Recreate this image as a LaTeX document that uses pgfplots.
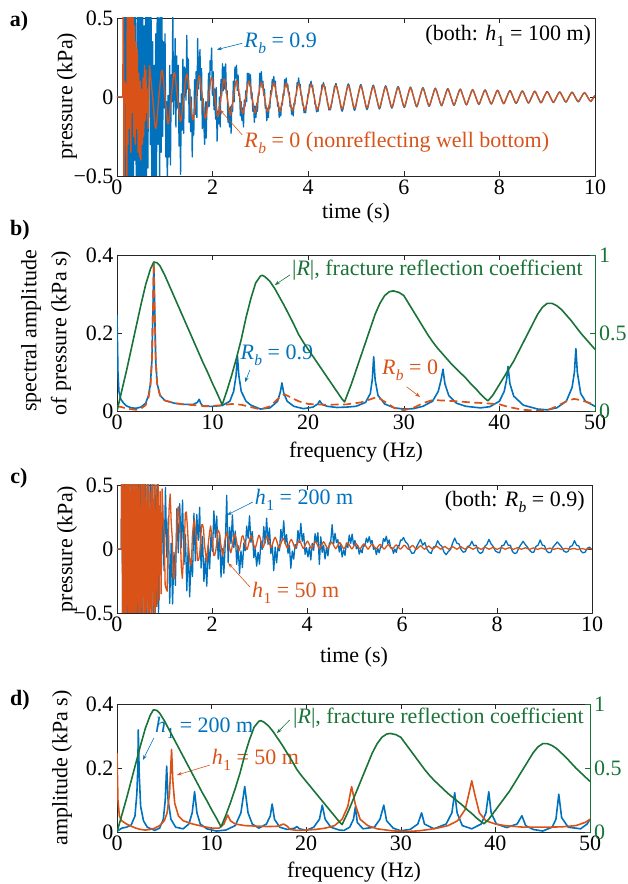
\documentclass[border=0pt]{standalone}
\usepackage{fontspec}
\setmainfont{Liberation Serif}
\usepackage{pgfplots}
\usepackage{pgfplotstable}
\pgfplotsset{compat=1.18}
\usetikzlibrary{arrows.meta}
\definecolor{mblue}{RGB}{0,114,189}
\definecolor{morange}{RGB}{217,83,25}
\definecolor{mgreen}{RGB}{25,115,55}
\definecolor{maxis}{RGB}{38,38,38}
\newcommand{\fs}{\fontsize{22}{26}\selectfont}
\newcommand{\Rb}{\textit{R}\kern0.5pt\raisebox{-0.6ex}{\fontsize{15.5}{15.5}\selectfont\textit{b}}}
\newcommand{\hone}{\textit{h}\kern0.5pt\raisebox{-0.6ex}{\fontsize{15.5}{15.5}\selectfont 1}}
\tikzset{arr/.style={line width=0.6pt, -{Stealth[length=5pt,width=3.5pt]}}}
\pgfplotsset{
  mbase/.style={scale only axis, anchor=south west,
    axis line style={draw=maxis, line width=0.6pt},
    tick style={draw=maxis, line width=0.6pt},
    tick align=inside, major tick length=5pt,
    tick label style={font=\fs, text=black},
    /pgf/number format/assume math mode=true,
    clip mode=individual},
  mright/.style={scale only axis, anchor=south west,
    axis x line=none, axis y line*=right,
    y axis line style={draw=mgreen, line width=0.6pt},
    ytick style={draw=mgreen, line width=0.6pt},
    tick align=inside, major tick length=5pt,
    yticklabel style={font=\fs, text=mgreen, inner xsep=0pt, xshift=4pt},
    /pgf/number format/assume math mode=true,
    clip mode=individual, xmin=0, xmax=50, ymin=0, ymax=1, ytick={0,0.5,1}},
}

% ---------------- panel a data ----------------
\pgfplotstableread[row sep=\\]{x y\\
0 0\\ 0.14 0\\
0.16 0.9\\ 0.1763 -0.7\\ 0.1925 0.8\\ 0.2088 -0.9\\ 0.225 0.6\\ 0.2413 -0.8\\ 0.2575 0.95\\ 0.2738 -0.6\\ 0.29 0.7\\ 0.3063 -0.85\\ 0.3225 0.5\\ 0.3388 -0.9\\ 0.355 0.8\\ 0.3713 -0.4\\ 0.3875 0.9\\ 0.4038 -0.75\\
0.42 -0.6\\ 0.4363 0.85\\ 0.4525 -0.9\\ 0.4688 0.55\\ 0.485 -0.7\\ 0.5013 0.9\\ 0.5175 -0.5\\ 0.5338 0.7\\ 0.55 -0.95\\ 0.5663 0.45\\ 0.5825 -0.6\\ 0.5988 0.8\\ 0.615 -0.75\\ 0.6313 0.6\\ 0.6475 -0.45\\ 0.6638 0.75\\
0.68 0.7\\ 0.6963 -0.3\\ 0.7125 0.55\\ 0.7288 -0.65\\ 0.745 0.35\\ 0.7613 -0.6\\ 0.7775 0.2\\ 0.7938 -0.7\\ 0.81 0.4\\ 0.8263 -0.5\\ 0.8425 0.65\\ 0.8588 -0.3\\ 0.875 0.5\\ 0.8913 -0.55\\ 0.9075 0.6\\ 0.9238 -0.35\\
0.94 0.53\\ 0.9563 -0.25\\ 0.9725 0.35\\ 0.9888 -0.07\\ 1.005 0.4\\ 1.0213 -0.38\\ 1.0375 -0.03\\ 1.0538 -0.61\\ 1.07 0.01\\ 1.0863 -0.38\\ 1.1025 0.2\\ 1.1188 -0.43\\ 1.135 0.14\\ 1.1513 -0.03\\ 1.1675 0.53\\ 1.1838 -0.11\\
1.2 0.02\\ 1.2163 0.37\\ 1.2325 -0.19\\ 1.2488 0.26\\ 1.265 -0.07\\ 1.2813 0.2\\ 1.2975 -0.31\\ 1.3138 -0.04\\ 1.33 -0.49\\ 1.3463 0.02\\ 1.3625 -0.21\\ 1.3788 0.24\\ 1.395 -0.23\\ 1.4113 0.19\\ 1.4275 0.14\\ 1.4438 -0.02\\
1.46 0.39\\ 1.4763 0.05\\ 1.4925 0.24\\ 1.5088 -0.16\\ 1.525 0.05\\ 1.5413 -0.22\\ 1.5575 0\\ 1.5738 -0.38\\ 1.59 -0.12\\ 1.6063 -0.24\\ 1.6225 0.11\\ 1.6388 -0.11\\ 1.655 0.16\\ 1.6713 -0.13\\ 1.6875 0.37\\ 1.7038 0.05\\
1.72 0.2\\ 1.7363 0.3\\ 1.7525 -0.02\\ 1.7688 0.18\\ 1.785 -0.2\\ 1.8013 -0.01\\ 1.8175 -0.18\\ 1.8338 -0.3\\ 1.85 -0.03\\ 1.8663 -0.26\\ 1.8825 -0.03\\ 1.8988 -0.07\\ 1.915 0.15\\ 1.9313 -0.06\\ 1.9475 0.23\\ 1.9638 0.17\\
1.98 0.31\\ 1.9963 0.01\\ 2.0125 0.16\\ 2.0288 -0.08\\ 2.045 0.05\\ 2.0613 -0.14\\ 2.0775 0.06\\ 2.0938 -0.28\\ 2.11 -0.09\\ 2.1263 -0.17\\ 2.1425 0\\ 2.1588 -0.19\\ 2.175 0.11\\ 2.1913 0.01\\ 2.2075 0.21\\ 2.2238 0.04\\
2.24 0.19\\ 2.2563 0.05\\ 2.2725 0.21\\ 2.2888 0.02\\ 2.305 0.04\\ 2.3213 -0.16\\ 2.3375 -0.07\\ 2.3538 -0.19\\ 2.37 -0.06\\ 2.3863 -0.23\\ 2.4025 -0.05\\ 2.4188 -0.09\\ 2.435 0.1\\ 2.4513 -0.03\\ 2.4675 0.19\\ 2.4838 0.12\\
2.5 0.2\\ 2.5163 0.04\\ 2.5325 0.14\\ 2.5488 0.01\\ 2.565 0.02\\ 2.5813 -0.12\\ 2.5975 -0.03\\ 2.6138 -0.15\\ 2.63 -0.07\\ 2.6463 -0.19\\ 2.6625 -0.02\\ 2.6788 -0.06\\ 2.695 0.04\\ 2.7113 -0.03\\ 2.7275 0.15\\ 2.7438 0.09\\
2.76 0.15\\ 2.7763 0.07\\ 2.7925 0.14\\ 2.8088 -0.01\\ 2.825 0.03\\ 2.8413 -0.09\\ 2.8575 -0.05\\ 2.8738 -0.16\\ 2.89 -0.06\\ 2.9063 -0.13\\ 2.9225 -0.04\\ 2.9388 -0.09\\ 2.955 0.02\\ 2.9713 0.01\\ 2.9875 0.15\\ 3.0038 0.09\\
3.02 0.16\\ 3.0363 0.06\\ 3.0525 0.1\\ 3.0688 0.01\\ 3.085 0.05\\ 3.1013 -0.07\\ 3.1175 -0.06\\ 3.1338 -0.15\\ 3.15 -0.07\\ 3.1663 -0.13\\ 3.1825 -0.05\\ 3.1988 -0.07\\ 3.215 0.04\\ 3.2313 0.02\\ 3.2475 0.11\\ 3.2638 0.07\\
3.28 0.13\\ 3.2963 0.07\\ 3.3125 0.1\\ 3.3288 0\\ 3.345 0.01\\ 3.3613 -0.06\\ 3.3775 -0.04\\ 3.3938 -0.13\\ 3.41 -0.07\\ 3.4263 -0.12\\ 3.4425 -0.04\\ 3.4588 -0.05\\ 3.475 0.02\\ 3.4913 0.01\\ 3.5075 0.11\\ 3.5238 0.07\\
3.54 0.12\\ 3.5563 0.06\\ 3.5725 0.08\\ 3.5888 0.02\\ 3.605 0.03\\ 3.6213 -0.06\\ 3.6375 -0.05\\ 3.6538 -0.11\\ 3.67 -0.07\\ 3.6863 -0.12\\ 3.7025 -0.04\\ 3.7188 -0.05\\ 3.735 0.01\\ 3.7513 0.01\\ 3.7675 0.09\\ 3.7838 0.08\\
3.8 0.12\\ 3.8163 0.07\\ 3.8325 0.08\\ 3.8488 0.01\\ 3.865 0.01\\ 3.8813 -0.05\\ 3.8975 -0.05\\ 3.9138 -0.1\\ 3.93 -0.07\\ 3.9463 -0.1\\ 3.9625 -0.05\\ 3.9788 -0.04\\ 3.995 0.02\\ 4.0113 0.02\\ 4.0275 0.08\\ 4.0438 0.07\\
4.06 0.1\\ 4.0763 0.064\\ 4.0925 0.073\\ 4.1088 0.022\\ 4.125 0.012\\ 4.1413 -0.046\\ 4.1575 -0.049\\ 4.1738 -0.094\\ 4.19 -0.07\\ 4.2063 -0.091\\ 4.2225 -0.052\\ 4.2388 -0.04\\ 4.255 0.009\\ 4.2713 0.025\\ 4.2875 0.076\\ 4.3038 0.073\\
4.32 0.091\\ 4.3363 0.067\\ 4.3525 0.064\\ 4.3688 0.022\\ 4.385 0.006\\ 4.4013 -0.036\\ 4.4175 -0.052\\ 4.4338 -0.083\\ 4.45 -0.073\\ 4.4663 -0.081\\ 4.4825 -0.052\\ 4.4988 -0.034\\ 4.515 0.006\\ 4.5313 0.026\\ 4.5475 0.064\\ 4.5638 0.071\\ 4.58 0.087\\
}\tAbN
\pgfplotstableread[row sep=\\]{x y\\
4.58 0.087\\ 4.645 0\\ 4.71 -0.09\\ 4.775 -0.002\\ 4.84 0.083\\ 4.905 0.002\\ 4.97 -0.085\\ 5.035 0\\ 5.1 0.079\\ 5.165 0\\ 5.23 -0.08\\ 5.295 -0.002\\ 5.36 0.075\\ 5.425 0.001\\ 5.49 -0.076\\ 5.555 0\\ 5.62 0.071\\ 5.685 0\\ 5.75 -0.071\\ 5.815 -0.001\\ 5.88 0.067\\ 5.945 0\\ 6.01 -0.067\\ 6.075 0\\ 6.14 0.063\\ 6.205 0\\ 6.27 -0.063\\ 6.335 0\\ 6.4 0.059\\ 6.465 0\\ 6.53 -0.059\\ 6.595 0\\ 6.66 0.056\\ 6.725 0\\ 6.79 -0.056\\ 6.855 0\\ 6.92 0.053\\ 6.985 0\\ 7.05 -0.053\\ 7.115 0\\ 7.18 0.05\\ 7.245 0\\ 7.31 -0.05\\ 7.375 0\\ 7.44 0.047\\ 7.505 0\\ 7.57 -0.047\\ 7.635 0\\ 7.7 0.045\\ 7.765 0\\ 7.83 -0.045\\ 7.895 0\\ 7.96 0.043\\ 8.025 0\\ 8.09 -0.043\\ 8.155 0\\ 8.22 0.041\\ 8.285 0\\ 8.35 -0.041\\ 8.415 0\\ 8.48 0.039\\ 8.545 0\\ 8.61 -0.039\\ 8.675 0\\ 8.74 0.037\\ 8.805 0\\ 8.87 -0.037\\ 8.935 0\\ 9 0.035\\ 9.065 0\\ 9.13 -0.035\\ 9.195 0\\ 9.26 0.033\\ 9.325 0\\ 9.39 -0.033\\ 9.455 0\\ 9.52 0.031\\ 9.585 0\\ 9.65 -0.031\\ 9.715 0\\ 9.78 0.029\\ 9.845 0\\ 9.91 -0.029\\ 9.975 0\\ 10 0.01\\
}\tAbT
\pgfplotstableread[row sep=\\]{x y\\
0 0\\ 0.12 0\\ 0.135 0.9\\ 0.145 -0.9\\ 0.16 0.1\\ 0.19 0.05\\ 0.205 -0.9\\ 0.215 0.9\\ 0.23 -0.3\\ 0.245 0.6\\ 0.26 -0.2\\ 0.275 0.7\\ 0.29 -0.35\\ 0.305 0.55\\ 0.32 -0.1\\ 0.335 0.6\\ 0.35 -0.25\\ 0.365 0.45\\ 0.38 -0.3\\ 0.395 0.35\\ 0.41 -0.2\\ 0.425 0.3\\ 0.44 -0.35\\ 0.455 0.15\\ 0.47 -0.38\\ 0.485 0.1\\ 0.5 -0.4\\ 0.515 0.05\\ 0.53 -0.3\\ 0.545 0.12\\ 0.56 -0.25\\ 0.575 0.2\\ 0.59 -0.15\\ 0.605 0.17\\ 0.62 -0.1\\ 0.635 0.05\\ 0.65 -0.2\\ 0.665 0.05\\ 0.68 0.2\\
}\tArE
\pgfplotstableread[row sep=\\]{x y\\
0.68 0.2\\ 0.745 0\\ 0.81 -0.2\\ 0.875 0\\ 0.94 0.17\\ 1.005 0\\ 1.07 -0.17\\ 1.135 0\\ 1.2 0.155\\ 1.265 0\\ 1.33 -0.155\\ 1.395 0\\ 1.46 0.145\\ 1.525 0\\ 1.59 -0.145\\ 1.655 0\\ 1.72 0.135\\ 1.785 0\\ 1.85 -0.135\\ 1.915 0\\ 1.98 0.125\\ 2.045 0\\ 2.11 -0.125\\ 2.175 0\\ 2.24 0.115\\ 2.305 0\\ 2.37 -0.115\\ 2.435 0\\ 2.5 0.105\\ 2.565 0\\ 2.63 -0.105\\ 2.695 0\\ 2.76 0.1\\ 2.825 0\\ 2.89 -0.1\\ 2.955 0\\ 3.02 0.095\\ 3.085 0\\ 3.15 -0.095\\ 3.215 0\\ 3.28 0.092\\ 3.345 0\\ 3.41 -0.092\\ 3.475 0\\ 3.54 0.088\\ 3.605 0\\ 3.67 -0.088\\ 3.735 0\\ 3.8 0.085\\ 3.865 0\\ 3.93 -0.085\\ 3.995 0\\ 4.06 0.082\\ 4.125 0\\ 4.19 -0.082\\ 4.255 0\\ 4.32 0.079\\ 4.385 0\\ 4.45 -0.079\\ 4.515 0\\ 4.58 0.076\\ 4.645 0\\ 4.71 -0.076\\ 4.775 0\\ 4.84 0.073\\ 4.905 0\\ 4.97 -0.073\\ 5.035 0\\ 5.1 0.07\\ 5.165 0\\ 5.23 -0.07\\ 5.295 0\\ 5.36 0.067\\ 5.425 0\\ 5.49 -0.067\\ 5.555 0\\ 5.62 0.064\\ 5.685 0\\ 5.75 -0.064\\ 5.815 0\\ 5.88 0.061\\ 5.945 0\\ 6.01 -0.061\\ 6.075 0\\ 6.14 0.058\\ 6.205 0\\ 6.27 -0.058\\ 6.335 0\\ 6.4 0.055\\ 6.465 0\\ 6.53 -0.055\\ 6.595 0\\ 6.66 0.052\\ 6.725 0\\ 6.79 -0.052\\ 6.855 0\\ 6.92 0.05\\ 6.985 0\\ 7.05 -0.05\\ 7.115 0\\ 7.18 0.048\\ 7.245 0\\ 7.31 -0.048\\ 7.375 0\\ 7.44 0.045\\ 7.505 0\\ 7.57 -0.045\\ 7.635 0\\ 7.7 0.043\\ 7.765 0\\ 7.83 -0.043\\ 7.895 0\\ 7.96 0.041\\ 8.025 0\\ 8.09 -0.041\\ 8.155 0\\ 8.22 0.039\\ 8.285 0\\ 8.35 -0.039\\ 8.415 0\\ 8.48 0.037\\ 8.545 0\\ 8.61 -0.037\\ 8.675 0\\ 8.74 0.035\\ 8.805 0\\ 8.87 -0.035\\ 8.935 0\\ 9 0.033\\ 9.065 0\\ 9.13 -0.033\\ 9.195 0\\ 9.26 0.031\\ 9.325 0\\ 9.39 -0.031\\ 9.455 0\\ 9.52 0.029\\ 9.585 0\\ 9.65 -0.029\\ 9.715 0\\ 9.78 0.027\\ 9.845 0\\ 9.91 -0.027\\ 9.975 0\\ 10 0.01\\
}\tArS

% ---------------- spectra data (b) ----------------
\pgfplotstableread[row sep=\\]{x y\\
0 0\\ 0.5 0.13\\ 1 0.26\\ 1.5 0.4\\ 2 0.54\\ 2.5 0.68\\ 3 0.81\\ 3.5 0.91\\ 3.85 0.955\\ 4.2 0.95\\ 4.5 0.93\\ 5 0.87\\ 5.5 0.8\\ 6 0.73\\ 6.5 0.66\\ 7 0.59\\ 7.5 0.52\\ 8 0.45\\ 8.5 0.38\\ 9 0.31\\ 9.5 0.245\\ 10 0.175\\ 10.5 0.11\\ 11 0.04\\ 11.5 0.13\\ 12 0.23\\ 12.5 0.34\\ 13 0.46\\ 13.5 0.6\\ 14 0.72\\ 14.5 0.82\\ 15 0.865\\ 15.2 0.87\\ 15.5 0.86\\ 16 0.83\\ 16.5 0.785\\ 17 0.73\\ 17.5 0.675\\ 18 0.615\\ 18.5 0.555\\ 19 0.49\\ 19.5 0.44\\ 20 0.395\\ 20.5 0.35\\ 21 0.305\\ 21.5 0.26\\ 22 0.215\\ 22.5 0.17\\ 23 0.125\\ 23.5 0.08\\ 23.8 0.058\\ 24.5 0.17\\ 25 0.26\\ 25.5 0.35\\ 26 0.44\\ 26.5 0.53\\ 27 0.62\\ 27.5 0.69\\ 28 0.74\\ 28.5 0.765\\ 28.9 0.77\\ 29.5 0.76\\ 30 0.74\\ 30.5 0.69\\ 31 0.64\\ 31.5 0.59\\ 32 0.54\\ 32.5 0.49\\ 33 0.445\\ 33.5 0.405\\ 34 0.37\\ 34.5 0.335\\ 35 0.3\\ 35.5 0.27\\ 36 0.24\\ 36.5 0.21\\ 37 0.175\\ 37.5 0.145\\ 38 0.11\\ 38.5 0.08\\ 38.8 0.065\\ 39.3 0.1\\ 40 0.17\\ 40.5 0.22\\ 41 0.27\\ 41.5 0.32\\ 42 0.38\\ 42.5 0.44\\ 43 0.5\\ 43.5 0.56\\ 44 0.62\\ 44.5 0.665\\ 45 0.69\\ 45.5 0.69\\ 46 0.675\\ 46.5 0.65\\ 47 0.615\\ 47.5 0.58\\ 48 0.54\\ 48.5 0.5\\ 49 0.465\\ 49.5 0.43\\ 50 0.395\\
}\tG
\pgfplotstableread[row sep=\\]{x y\\
0 0.246\\ 0.1 0.1\\ 0.2 0.05\\ 0.4 0.03\\ 0.7 0.02\\ 1 0.013\\ 1.5 0.008\\ 2 0.007\\ 2.5 0.01\\ 3 0.02\\ 3.3 0.04\\ 3.5 0.07\\ 3.65 0.13\\ 3.75 0.25\\ 3.85 0.38\\ 3.95 0.25\\ 4.05 0.13\\ 4.2 0.07\\ 4.5 0.04\\ 5 0.027\\ 6 0.02\\ 7 0.017\\ 8 0.017\\ 8.4 0.022\\ 8.6 0.03\\ 8.75 0.02\\ 9 0.012\\ 10 0.012\\ 11 0.014\\ 11.8 0.025\\ 12.2 0.05\\ 12.45 0.09\\ 12.6 0.14\\ 12.75 0.09\\ 13 0.05\\ 13.5 0.025\\ 14 0.015\\ 15 0.005\\ 16 0.008\\ 16.8 0.025\\ 17.1 0.05\\ 17.25 0.072\\ 17.45 0.045\\ 17.8 0.025\\ 18.5 0.012\\ 19.5 0.006\\ 20.5 0.01\\ 21 0.018\\ 21.2 0.026\\ 21.5 0.016\\ 22 0.012\\ 23 0.009\\ 24 0.01\\ 25 0.012\\ 26 0.022\\ 26.5 0.045\\ 26.7 0.08\\ 26.85 0.139\\ 27 0.08\\ 27.3 0.04\\ 28 0.018\\ 29 0.008\\ 30 0.005\\ 31 0.006\\ 32 0.012\\ 33 0.025\\ 33.6 0.05\\ 33.9 0.08\\ 34.1 0.107\\ 34.3 0.07\\ 34.7 0.04\\ 35.5 0.02\\ 36.5 0.012\\ 38 0.008\\ 39 0.011\\ 40 0.025\\ 40.5 0.05\\ 40.75 0.08\\ 40.9 0.114\\ 41.1 0.07\\ 41.5 0.038\\ 42.5 0.015\\ 44 0.005\\ 45 0.003\\ 46 0.008\\ 47 0.025\\ 47.6 0.06\\ 47.85 0.1\\ 48 0.16\\ 48.15 0.1\\ 48.5 0.045\\ 49 0.025\\ 50 0.012\\
}\tBb
\pgfplotstableread[row sep=\\]{x y\\
0 0.012\\ 0.5 0.01\\ 1 0.006\\ 2 0.003\\ 2.5 0.006\\ 3 0.015\\ 3.3 0.035\\ 3.5 0.065\\ 3.65 0.13\\ 3.75 0.25\\ 3.85 0.38\\ 3.95 0.25\\ 4.05 0.13\\ 4.2 0.07\\ 4.5 0.04\\ 5 0.027\\ 6 0.02\\ 7 0.017\\ 8 0.015\\ 9 0.013\\ 10 0.013\\ 11 0.015\\ 12 0.018\\ 13 0.016\\ 14 0.01\\ 15 0.004\\ 16 0.012\\ 17 0.035\\ 17.5 0.043\\ 18 0.037\\ 19 0.025\\ 20 0.018\\ 22 0.016\\ 24 0.017\\ 25.5 0.022\\ 26.5 0.03\\ 27.2 0.036\\ 28 0.024\\ 29 0.008\\ 30 0.002\\ 31 0.008\\ 32 0.02\\ 33 0.028\\ 34 0.027\\ 35.5 0.025\\ 37 0.022\\ 38.5 0.02\\ 40 0.017\\ 41 0.01\\ 42.5 0.003\\ 44 0.001\\ 45 0.002\\ 46 0.012\\ 47 0.025\\ 47.8 0.031\\ 48.5 0.028\\ 49.5 0.02\\ 50 0.017\\
}\tBr

% ---------------- panel c data ----------------
\pgfplotstableread[row sep=\\]{x y\\
0 0\\ 0.09 0\\ 0.1 0.9\\ 0.125 -0.95\\ 0.15 0.8\\ 0.175 -0.7\\ 0.2 1.0\\ 0.225 -0.9\\ 0.25 0.7\\ 0.275 -1.0\\ 0.3 0.85\\ 0.325 -0.6\\ 0.35 0.95\\ 0.375 -0.8\\ 0.4 0.6\\ 0.425 -0.9\\ 0.45 0.8\\ 0.475 -0.75\\ 0.5 0.9\\ 0.525 -0.6\\ 0.55 0.7\\ 0.575 -0.85\\ 0.6 0.65\\ 0.625 -0.7\\ 0.65 0.75\\ 0.675 -0.55\\ 0.7 0.6\\ 0.725 -0.65\\ 0.75 0.55\\ 0.775 -0.7\\ 0.8 0.5\\ 0.825 -0.45\\ 0.85 0.6\\ 0.875 -0.5\\
0.9 0.32\\ 0.93 -0.21\\ 0.96 0.34\\ 0.99 -0.17\\ 1.02 0.48\\ 1.05 -0.065\\ 1.08 0.245\\ 1.11 -0.425\\ 1.14 0.045\\ 1.17 -0.43\\ 1.2 -0.025\\ 1.23 -0.285\\ 1.26 0.315\\ 1.29 -0.03\\ 1.32 0.354\\ 1.35 0.01\\ 1.38 0.382\\ 1.41 -0.121\\ 1.44 0.112\\ 1.47 -0.327\\ 1.5 0.038\\ 1.53 -0.374\\ 1.56 -0.074\\ 1.59 -0.215\\ 1.62 0.28\\ 1.65 -0.093\\ 1.68 0.27\\ 1.71 0.066\\ 1.74 0.326\\ 1.77 -0.149\\ 1.8 0.1\\ 1.83 -0.255\\ 1.86 -0.07\\ 1.89 -0.29\\ 1.92 0.03\\ 1.95 -0.155\\ 1.98 0.12\\ 2.01 -0.02\\ 2.04 0.297\\ 2.07 0.09\\ 2.1 0.257\\ 2.13 -0.08\\ 2.16 0.11\\ 2.19 -0.22\\ 2.22 0.003\\ 2.25 -0.19\\ 2.28 0.043\\ 2.31 0.42\\ 2.34 -0.105\\ 2.37 0.17\\ 2.4 0.042\\ 2.43 0.265\\ 2.46 0.012\\ 2.49 0.14\\ 2.52 -0.12\\ 2.55 0.025\\ 2.58 -0.192\\ 2.61 -0.015\\ 2.64 -0.145\\ 2.67 0.046\\ 2.7 -0.014\\ 2.73 0.179\\ 2.76 0.084\\ 2.79 0.26\\ 2.82 0.051\\ 2.85 0.135\\ 2.88 -0.069\\ 2.91 0.002\\ 2.94 -0.134\\ 2.97 -0.026\\ 3 -0.119\\ 3.03 0.061\\ 3.06 -0.003\\ 3.09 0.175\\ 3.12 0.047\\ 3.15 0.24\\ 3.18 0.036\\ 3.21 0.164\\ 3.24 -0.036\\ 3.27 0.028\\ 3.3 -0.17\\ 3.33 0.015\\ 3.36 -0.108\\ 3.39 0.017\\ 3.42 -0.014\\ 3.45 0.153\\ 3.48 0.069\\ 3.51 0.22\\ 3.54 0.043\\ 3.57 0.113\\ 3.6 -0.034\\ 3.63 0.027\\ 3.66 -0.15\\ 3.69 -0.016\\ 3.72 -0.079\\ 3.75 0.035\\ 3.78 0.006\\ 3.81 0.145\\ 3.84 0.051\\ 3.87 0.2\\ 3.9 0.059\\ 3.93 0.121\\ 3.96 -0.042\\ 3.99 0.011\\ 4.02 -0.062\\ 4.05 0.012\\ 4.08 -0.086\\ 4.11 0.045\\ 4.14 -0.01\\ 4.17 0.119\\ 4.2 0.05\\ 4.23 0.128\\ 4.26 -0.12\\ 4.29 0.095\\ 4.32 -0.026\\ 4.35 0.029\\ 4.38 -0.078\\ 4.41 0.012\\ 4.44 -0.054\\ 4.47 0.041\\ 4.5 0.06\\ 4.53 0.19\\ 4.56 0.038\\ 4.59 0.122\\ 4.62 0.05\\ 4.65 0.073\\ 4.68 -0.024\\ 4.71 0.035\\ 4.74 -0.062\\ 4.77 -0.008\\ 4.8 -0.05\\ 4.83 0.047\\ 4.86 0.012\\ 4.89 0.109\\ 4.92 0.044\\ 4.95 0.116\\ 4.98 0.032\\ 5.01 0.067\\ 5.04 0.002\\ 5.07 0.025\\ 5.1 -0.04\\ 5.13 -0.005\\ 5.16 -0.03\\ 5.19 0.035\\ 5.22 0.023\\ 5.25 0.085\\ 5.28 0.052\\ 5.31 0.096\\ 5.34 0.045\\ 5.37 0.067\\ 5.4 -0.002\\ 5.43 0.014\\ 5.46 -0.044\\ 5.49 0.003\\ 5.52 -0.03\\ 5.55 0.018\\ 5.58 0.016\\ 5.61 0.081\\ 5.64 0.059\\ 5.67 0.1\\ 5.7 0.041\\ 5.73 0.071\\ 5.76 0.009\\ 5.79 0.011\\ 5.82 -0.034\\ 5.85 -0.001\\ 5.88 -0.027\\ 5.91 0.028\\ 5.94 0.023\\ 5.97 0.071\\ 6 0.069\\
6.03 0.09\\ 6.075 0.055\\ 6.12 0.04\\ 6.165 -0.005\\ 6.21 -0.035\\ 6.255 -0.03\\ 6.3 0.01\\ 6.345 0.045\\ 6.39 0.075\\ 6.435 0.03\\ 6.48 0.05\\ 6.525 0\\ 6.57 -0.025\\ 6.615 -0.035\\ 6.66 0.015\\ 6.705 0.02\\ 6.75 0.065\\ 6.795 0.035\\ 6.84 0.02\\ 6.885 -0.025\\ 6.93 -0.045\\ 6.975 -0.02\\ 7.02 -0.005\\ 7.065 0.045\\ 7.11 0.085\\ 7.155 0.045\\ 7.2 0.04\\ 7.245 -0.005\\ 7.29 -0.025\\ 7.335 -0.02\\ 7.38 0.02\\ 7.425 0.025\\ 7.47 0.06\\ 7.515 0.025\\ 7.56 0.03\\ 7.605 -0.02\\ 7.65 -0.035\\ 7.695 -0.025\\ 7.74 0.02\\ 7.785 0.035\\ 7.83 0.075\\ 7.875 0.04\\ 7.92 0.02\\ 7.965 -0.015\\ 8.01 -0.025\\ 8.055 -0.03\\ 8.1 0.025\\ 8.145 0.03\\ 8.19 0.065\\ 8.235 0.03\\ 8.28 0.03\\ 8.325 -0.02\\ 8.37 -0.035\\ 8.415 -0.03\\ 8.46 0.01\\ 8.505 0.035\\ 8.55 0.06\\ 8.595 0.035\\ 8.64 0.015\\ 8.685 -0.01\\ 8.73 -0.025\\ 8.775 -0.025\\ 8.82 0.02\\ 8.865 0.03\\ 8.91 0.07\\ 8.955 0.03\\ 9 0.025\\ 9.045 -0.015\\ 9.09 -0.03\\ 9.135 -0.025\\ 9.18 0.015\\ 9.225 0.035\\ 9.27 0.055\\ 9.315 0.035\\ 9.36 0.015\\ 9.405 -0.015\\ 9.45 -0.025\\ 9.495 -0.02\\ 9.54 0.02\\ 9.585 0.025\\ 9.63 0.065\\ 9.675 0.03\\ 9.72 0.025\\ 9.765 -0.015\\ 9.81 -0.03\\ 9.855 -0.025\\ 9.9 0.005\\ 9.945 0.015\\ 10 -0.005\\
}\tCb
\pgfplotstableread[row sep=\\]{x y\\
0 0\\ 0.09 0\\ 0.1 0.9\\ 0.1213 -0.8\\ 0.1425 1.0\\ 0.1638 -0.9\\ 0.185 0.7\\ 0.2063 -1.0\\ 0.2275 0.85\\ 0.2488 -0.6\\ 0.27 0.95\\ 0.2913 -0.9\\ 0.3125 0.6\\ 0.3338 -0.75\\ 0.355 0.9\\ 0.3763 -0.95\\ 0.3975 0.7\\ 0.4188 -0.5\\ 0.44 0.8\\ 0.4613 -0.85\\ 0.4825 0.55\\ 0.5038 -0.7\\ 0.525 0.75\\ 0.5463 -0.6\\ 0.5675 0.9\\ 0.5888 -0.8\\ 0.61 0.5\\ 0.6313 -0.55\\ 0.6525 0.7\\ 0.6738 -0.75\\ 0.695 0.45\\ 0.7163 -0.6\\ 0.7375 0.65\\ 0.7588 -0.5\\ 0.78 0.55\\ 0.8013 -0.65\\ 0.8225 0.5\\ 0.8438 -0.45\\ 0.865 0.6\\ 0.8863 -0.4\\ 0.9075 0.45\\ 0.9288 -0.35\\
0.95 0.47\\ 0.9713 0.23\\ 0.9925 0.14\\ 1.0138 -0.28\\ 1.035 -0.31\\ 1.0563 -0.33\\ 1.0775 0.1\\ 1.0988 0.33\\ 1.12 0.43\\ 1.1413 0.21\\ 1.1625 0.09\\ 1.1838 -0.22\\ 1.205 -0.23\\ 1.2263 -0.11\\ 1.2475 0.01\\ 1.2688 0.29\\ 1.29 0.33\\ 1.3113 0.21\\ 1.3325 0.11\\ 1.3538 -0.14\\ 1.375 -0.23\\ 1.3963 -0.09\\ 1.4175 0.04\\ 1.4388 0.28\\ 1.46 0.29\\ 1.4813 0.18\\ 1.5025 0.03\\ 1.5238 -0.06\\ 1.545 -0.13\\ 1.5663 -0.11\\ 1.5875 0.1\\ 1.6088 0.19\\ 1.63 0.23\\ 1.6513 0.14\\ 1.6725 0.08\\ 1.6938 -0.09\\ 1.715 -0.09\\ 1.7363 -0.05\\ 1.7575 0.03\\ 1.7788 0.19\\ 1.8 0.19\\ 1.8213 0.16\\ 1.8425 0.03\\ 1.8638 -0.03\\ 1.885 -0.1\\ 1.9063 -0.02\\ 1.9275 0.06\\ 1.9488 0.13\\ 1.97 0.18\\ 1.9913 0.12\\ 2.0125 0.06\\ 2.0338 -0.05\\ 2.055 -0.05\\ 2.0763 -0.02\\ 2.0975 0.04\\ 2.1188 0.15\\ 2.14 0.14\\ 2.1613 0.12\\ 2.1825 0.04\\ 2.2038 0\\ 2.225 -0.05\\ 2.2463 -0.01\\ 2.2675 0.06\\ 2.2888 0.1\\ 2.31 0.13\\ 2.3313 0.1\\ 2.3525 0.05\\ 2.3738 0\\ 2.395 -0.03\\ 2.4163 0\\ 2.4375 0.05\\ 2.4588 0.1\\ 2.48 0.115\\ 2.5013 0.095\\ 2.5225 0.05\\ 2.5438 0.005\\ 2.565 -0.015\\ 2.5863 0.005\\ 2.6075 0.05\\ 2.6288 0.095\\ 2.65 0.105\\
}\tCrE
\pgfplotstableread[row sep=\\]{x y\\
2.65 0.105\\ 2.6925 0.05\\ 2.735 -0.005\\ 2.7775 0.05\\ 2.82 0.105\\ 2.8625 0.055\\ 2.905 0.005\\ 2.9475 0.055\\ 2.99 0.108\\ 3.0325 0.06\\ 3.075 0.012\\ 3.1175 0.06\\ 3.16 0.1\\ 3.2025 0.055\\ 3.245 0.01\\ 3.2875 0.055\\ 3.33 0.092\\ 3.3725 0.05\\ 3.415 0.008\\ 3.4575 0.05\\ 3.5 0.083\\ 3.5425 0.045\\ 3.585 0.007\\ 3.6275 0.045\\ 3.67 0.075\\ 3.7125 0.04\\ 3.755 0.005\\ 3.7975 0.04\\ 3.84 0.067\\ 3.8825 0.035\\ 3.925 0.003\\ 3.9675 0.035\\ 4.01 0.062\\ 4.0525 0.032\\ 4.095 0.002\\ 4.1375 0.032\\ 4.18 0.058\\ 4.2225 0.03\\ 4.265 0.002\\ 4.3075 0.03\\ 4.35 0.057\\ 4.3925 0.03\\ 4.435 0.003\\ 4.4775 0.03\\ 4.52 0.054\\ 4.5625 0.028\\ 4.605 0.002\\ 4.6475 0.028\\ 4.69 0.051\\ 4.7325 0.026\\ 4.775 0.001\\ 4.8175 0.026\\ 4.86 0.048\\ 4.9025 0.024\\ 4.945 0\\ 4.9875 0.024\\ 5.03 0.044\\ 5.0725 0.022\\ 5.115 0\\ 5.1575 0.022\\ 5.2 0.041\\ 5.2425 0.02\\ 5.285 -0.001\\ 5.3275 0.02\\ 5.37 0.04\\ 5.4125 0.02\\ 5.455 0\\ 5.4975 0.02\\ 5.54 0.037\\ 5.5825 0.018\\ 5.625 -0.001\\ 5.6675 0.018\\ 5.71 0.034\\ 5.7525 0.016\\ 5.795 -0.002\\ 5.8375 0.016\\ 5.88 0.032\\ 5.9225 0.015\\ 5.965 -0.002\\ 6.0075 0.015\\ 6.05 0.03\\ 6.0925 0.014\\ 6.135 -0.002\\ 6.1775 0.014\\ 6.22 0.028\\ 6.2625 0.013\\ 6.305 -0.002\\ 6.3475 0.013\\ 6.39 0.026\\ 6.4325 0.012\\ 6.475 -0.002\\ 6.5175 0.012\\ 6.56 0.024\\ 6.6025 0.011\\ 6.645 -0.002\\ 6.6875 0.011\\ 6.73 0.022\\ 6.7725 0.01\\ 6.815 -0.002\\ 6.8575 0.01\\ 6.9 0.02\\ 6.9425 0.009\\ 6.985 -0.002\\ 7.0275 0.009\\ 7.07 0.018\\ 7.1125 0.008\\ 7.155 -0.002\\ 7.1975 0.008\\ 7.24 0.018\\ 7.2825 0.008\\ 7.325 -0.002\\ 7.3675 0.008\\ 7.41 0.016\\ 7.4525 0.007\\ 7.495 -0.002\\ 7.5375 0.007\\ 7.58 0.015\\ 7.6225 0.006\\ 7.665 -0.003\\ 7.7075 0.006\\ 7.75 0.014\\ 7.7925 0.006\\ 7.835 -0.002\\ 7.8775 0.006\\ 7.92 0.013\\ 7.9625 0.005\\ 8.005 -0.003\\ 8.0475 0.005\\ 8.09 0.012\\ 8.1325 0.005\\ 8.175 -0.002\\ 8.2175 0.005\\ 8.26 0.011\\ 8.3025 0.004\\ 8.345 -0.003\\ 8.3875 0.004\\ 8.43 0.01\\ 8.4725 0.004\\ 8.515 -0.002\\ 8.5575 0.004\\ 8.6 0.009\\ 8.6425 0.003\\ 8.685 -0.003\\ 8.7275 0.003\\ 8.77 0.009\\ 8.8125 0.003\\ 8.855 -0.003\\ 8.8975 0.003\\ 8.94 0.007\\ 8.9825 0.002\\ 9.025 -0.003\\ 9.0675 0.002\\ 9.11 0.007\\ 9.1525 0.002\\ 9.195 -0.003\\ 9.2375 0.002\\ 9.28 0.006\\ 9.3225 0.001\\ 9.365 -0.004\\ 9.4075 0.001\\ 9.45 0.005\\ 9.4925 0.001\\ 9.535 -0.003\\ 9.5775 0.001\\ 9.62 0.004\\ 9.6625 0\\ 9.705 -0.004\\ 9.7475 0\\ 9.79 0.004\\ 9.8325 0\\ 9.875 -0.004\\ 9.9175 0\\ 9.96 0.004\\ 10 0\\
}\tCrS

% ---------------- spectra data (d) ----------------
\pgfplotstableread[row sep=\\]{x y\\
0 0.002\\ 0.5 0.012\\ 1 0.015\\ 1.5 0.022\\ 1.9 0.05\\ 2.1 0.12\\ 2.2 0.2\\ 2.25 0.319\\ 2.35 0.18\\ 2.5 0.08\\ 2.8 0.035\\ 3.2 0.015\\ 4 0.005\\ 4.5 0.012\\ 4.9 0.04\\ 5.1 0.1\\ 5.25 0.206\\ 5.4 0.1\\ 5.7 0.04\\ 6.2 0.015\\ 7 0.01\\ 7.6 0.025\\ 7.95 0.06\\ 8.2 0.126\\ 8.45 0.06\\ 8.8 0.025\\ 9.5 0.01\\ 10.5 0.003\\ 11.5 0.006\\ 12.5 0.02\\ 13.1 0.06\\ 13.5 0.142\\ 13.85 0.06\\ 14.3 0.025\\ 15 0.012\\ 15.8 0.025\\ 16.2 0.05\\ 16.4 0.0875\\ 16.65 0.04\\ 17.2 0.015\\ 18 0.008\\ 18.8 0.012\\ 19 0.017\\ 19.3 0.01\\ 20 0.005\\ 20.8 0.015\\ 21.4 0.04\\ 21.7 0.084\\ 22 0.04\\ 22.6 0.015\\ 23.5 0.006\\ 24 0.005\\ 24.6 0.015\\ 25 0.04\\ 25.2 0.079\\ 25.4 0.03\\ 26 0.01\\ 27.2 0.015\\ 27.8 0.04\\ 28.2 0.084\\ 28.5 0.035\\ 29.2 0.012\\ 30 0.004\\ 31 0.008\\ 31.8 0.025\\ 32.2 0.06\\ 32.5 0.025\\ 33.5 0.01\\ 34.8 0.025\\ 35.4 0.06\\ 35.7 0.123\\ 35.95 0.06\\ 36.5 0.02\\ 37.5 0.01\\ 38.5 0.025\\ 39 0.06\\ 39.3 0.126\\ 39.55 0.06\\ 40.1 0.025\\ 41.2 0.014\\ 42.3 0.025\\ 42.8 0.051\\ 43.2 0.02\\ 44 0.008\\ 45 0.003\\ 46 0.015\\ 46.4 0.04\\ 46.7 0.118\\ 47 0.045\\ 47.7 0.015\\ 49 0.01\\ 49.7 0.025\\ 50 0.04\\
}\tDb
\pgfplotstableread[row sep=\\]{x y\\
0 0.247\\ 0.1 0.1\\ 0.25 0.05\\ 0.5 0.035\\ 1 0.025\\ 1.5 0.018\\ 2 0.012\\ 2.5 0.008\\ 3 0.006\\ 3.5 0.008\\ 4 0.012\\ 4.5 0.02\\ 5 0.035\\ 5.3 0.06\\ 5.55 0.12\\ 5.77 0.258\\ 5.9 0.16\\ 6.1 0.09\\ 6.5 0.05\\ 7 0.035\\ 8 0.025\\ 9 0.018\\ 10 0.012\\ 10.8 0.012\\ 11.3 0.025\\ 11.7 0.053\\ 12 0.035\\ 12.5 0.025\\ 13.5 0.02\\ 15 0.018\\ 16 0.017\\ 17 0.018\\ 17.6 0.025\\ 18 0.018\\ 18.3 0.008\\ 19 0.005\\ 20 0.006\\ 21 0.008\\ 22 0.012\\ 23 0.02\\ 23.8 0.04\\ 24.4 0.08\\ 24.8 0.142\\ 25.2 0.085\\ 25.7 0.04\\ 26.5 0.02\\ 27.5 0.01\\ 29 0.004\\ 30 0.002\\ 31 0.002\\ 32 0.004\\ 33 0.008\\ 34 0.013\\ 35 0.02\\ 36 0.035\\ 36.8 0.07\\ 37.2 0.12\\ 37.5 0.16\\ 37.8 0.12\\ 38.3 0.06\\ 39 0.035\\ 40 0.025\\ 41 0.02\\ 43 0.015\\ 45 0.015\\ 47 0.016\\ 48.5 0.02\\ 49.5 0.03\\ 50 0.04\\
}\tDr

\begin{document}
\begin{tikzpicture}[line join=round]
\useasboundingbox (0,0) rectangle (628pt,884pt);

% ============ panel a ============
\begin{axis}[mbase, at={(117pt,708pt)}, width=478pt, height=158pt,
  xmin=0, xmax=10, ymin=-0.5, ymax=0.5, xtick={0,2,4,6,8,10},
  ytick={-0.5,0,0.5}, yticklabels={−0.5,0,0.5}]
\addplot[mblue, line width=1.3pt] table {\tAbN};
\addplot[mblue, line width=1.3pt, smooth] table {\tAbT};
\addplot[morange, line width=1.3pt] table {\tArE};
\addplot[morange, line width=1.3pt, smooth] table {\tArS};
\draw[mblue, arr] (axis cs:2.62,0.34) -- (axis cs:2.09,0.30);
\node[mblue, anchor=west, font=\fs, inner sep=0pt] at (axis cs:2.66,0.34) {\Rb{} = 0.9};
\node[anchor=east, font=\fs, inner sep=0pt] at (axis cs:9.92,0.385) {(both: \hone{} = 100 m)};
\draw[morange, arr] (axis cs:2.62,-0.24) -- (axis cs:2.15,-0.08);
\node[morange, anchor=west, font=\fs, inner sep=0pt] at (axis cs:2.66,-0.29) {\Rb{} = 0 (nonreflecting well bottom)};
\end{axis}

% ============ panel b ============
\begin{axis}[mbase, at={(117pt,473pt)}, width=478pt, height=156pt,
  xmin=0, xmax=50, ymin=0, ymax=0.4, xtick={0,10,20,30,40,50},
  ytick={0,0.2,0.4}, ytick pos=left]
\addplot[mblue, line width=1.6pt] table {\tBb};
\addplot[morange, line width=1.7pt, dash pattern=on 8pt off 4.5pt] table {\tBr};
\draw[mblue, arr] (axis cs:13.9,0.105) -- (axis cs:13.4,0.074);
\node[mblue, anchor=west, font=\fs, inner sep=0pt] at (axis cs:12.9,0.144) {\Rb{} = 0.9};
\draw[morange, arr] (axis cs:30.3,0.062) -- (axis cs:31.7,0.036);
\node[morange, anchor=west, font=\fs, inner sep=0pt] at (axis cs:27.7,0.105) {\Rb{} = 0};
\end{axis}
\begin{axis}[mright, at={(117pt,473pt)}, width=478pt, height=156pt]
\addplot[mgreen, line width=1.6pt] table {\tG};
\draw[mgreen, arr] (axis cs:18.1,0.8725) -- (axis cs:16.5,0.8075);
\node[mgreen, anchor=west, font=\fs, inner sep=0pt] at (axis cs:18.3,0.905) {|\textit{R}|, fracture reflection coefficient};
\end{axis}

% ============ panel c ============
\begin{axis}[mbase, at={(117pt,271pt)}, width=475pt, height=128pt,
  xmin=0, xmax=10, ymin=-0.5, ymax=0.5, xtick={0,2,4,6,8,10},
  ytick={-0.5,0,0.5}, yticklabels={−0.5,0,0.5}]
\addplot[mblue, line width=1.3pt] table {\tCb};
\addplot[morange, line width=1.3pt] table {\tCrE};
\addplot[morange, line width=1.3pt, smooth] table {\tCrS};
\draw[mblue, arr] (axis cs:2.86,0.367) -- (axis cs:2.32,0.266);
\node[mblue, anchor=west, font=\fs, inner sep=0pt] at (axis cs:2.9,0.383) {\hone{} = 200 m};
\node[anchor=east, font=\fs, inner sep=0pt] at (axis cs:9.85,0.367) {(both: \Rb{} = 0.9)};
\draw[morange, arr] (axis cs:2.8,-0.297) -- (axis cs:2.34,-0.109);
\node[morange, anchor=west, font=\fs, inner sep=0pt] at (axis cs:2.84,-0.344) {\hone{} = 50 m};
\end{axis}

% ============ panel d ============
\begin{axis}[mbase, at={(117pt,52pt)}, width=473pt, height=128pt,
  xmin=0, xmax=50, ymin=0, ymax=0.4, xtick={0,10,20,30,40,50},
  ytick={0,0.2,0.4}, ytick pos=left]
\addplot[mblue, line width=1.6pt] table {\tDb};
\addplot[morange, line width=1.6pt] table {\tDr};
\draw[mblue, arr] (axis cs:3.9,0.294) -- (axis cs:2.74,0.225);
\node[mblue, anchor=west, font=\fs, inner sep=0pt] at (axis cs:4.0,0.325) {\hone{} = 200 m};
\draw[morange, arr] (axis cs:9.8,0.209) -- (axis cs:6.33,0.178);
\node[morange, anchor=west, font=\fs, inner sep=0pt] at (axis cs:10.0,0.225) {\hone{} = 50 m};
\end{axis}
\begin{axis}[mright, at={(117pt,52pt)}, width=473pt, height=128pt]
\addplot[mgreen, line width=1.6pt] table {\tG};
\draw[mgreen, arr] (axis cs:18.25,0.875) -- (axis cs:16.9,0.7725);
\node[mgreen, anchor=west, font=\fs, inner sep=0pt] at (axis cs:18.6,0.89) {|\textit{R}|, fracture reflection coefficient};
\end{axis}

% ============ outer labels ============
\node[font=\bfseries\fontsize{22}{24}\selectfont] at (19pt,863pt) {a)};
\node[font=\bfseries\fontsize{22}{24}\selectfont] at (20pt,654pt) {b)};
\node[font=\bfseries\fontsize{22}{24}\selectfont] at (19pt,406pt) {c)};
\node[font=\bfseries\fontsize{22}{24}\selectfont] at (20pt,184pt) {d)};
\node[font=\fs] at (356pt,671pt) {time (s)};
\node[font=\fs] at (356pt,432pt) {frequency (Hz)};
\node[font=\fs] at (354pt,227pt) {time (s)};
\node[font=\fs] at (354pt,12pt) {frequency (Hz)};
\node[font=\fs, rotate=90] at (67pt,788pt) {pressure (kPa)};
\node[font=\fs, rotate=90] at (31pt,553pt) {spectral amplitude};
\node[font=\fs, rotate=90] at (61pt,551pt) {of pressure (kPa s)};
\node[font=\fs, rotate=90] at (67pt,335pt) {pressure (kPa)};
\node[font=\fs, rotate=90] at (62pt,116pt) {amplitude (kPa s)};
\end{tikzpicture}
\end{document}
